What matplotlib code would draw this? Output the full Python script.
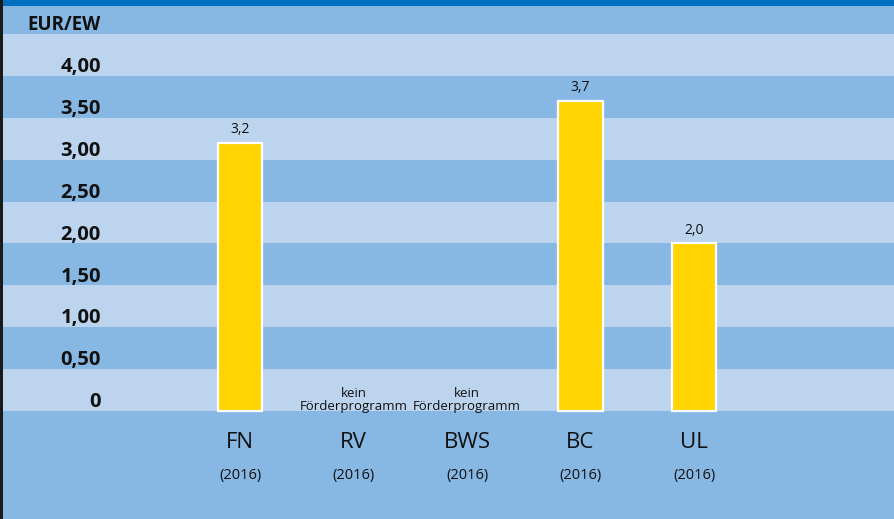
import matplotlib
matplotlib.use("Agg")
import matplotlib.pyplot as plt

plt.rcParams["font.family"] = ["Open Sans", "DejaVu Sans"]

categories = ["FN", "RV", "BWS", "BC", "UL"]
years = ["(2016)", "(2016)", "(2016)", "(2016)", "(2016)"]
values = [3.2, None, None, 3.7, 2.0]
value_labels = ["3,2", None, None, "3,7", "2,0"]
no_program = "kein\nFörderprogramm"
yticks = [0, 0.5, 1.0, 1.5, 2.0, 2.5, 3.0, 3.5, 4.0]
ytick_labels = ["0", "0,50", "1,00", "1,50", "2,00", "2,50", "3,00", "3,50", "4,00"]
unit = "EUR/EW"

DARK = "#87B7E3"
LIGHT = "#BDD4EF"
TOP = "#0070C0"
YELLOW = "#FFD400"

fig = plt.figure(figsize=(8.94, 5.19), dpi=100)
ax = fig.add_axes([0, 0, 1, 1])
ax.set_facecolor(DARK)
ax.set_xlim(-2.115, 5.762)
ax.set_ylim(-1.29, 4.907)

# light stripes every other half unit
for y0 in [0, 1.0, 2.0, 3.0, 4.0]:
    ax.axhspan(y0, y0 + 0.5, color=LIGHT, lw=0, zorder=0)
ax.axhspan(4.836, 4.95, color=TOP, lw=0, zorder=1)
ax.axvspan(-2.2, -2.115 + 3 / 113.5, color="#1a1a1a", lw=0, zorder=1)

xs = list(range(len(categories)))
for x, v, lab in zip(xs, values, value_labels):
    if v is None:
        ax.text(x, -0.025, no_program, ha="center", va="bottom", fontsize=9.5,
                linespacing=1.05, color="#111111")
        continue
    ax.bar(x, v, width=0.39, color=YELLOW, edgecolor="white", linewidth=1.6, zorder=3)
    ax.text(x, v + 0.07, lab, ha="center", va="bottom", fontsize=10, color="#111111")

for x, c, yr in zip(xs, categories, years):
    ax.text(x, -0.38, c, ha="center", va="center", fontsize=16, color="#111111")
    ax.text(x, -0.765, yr, ha="center", va="center", fontsize=10.5, color="#111111")

for t, lab in zip(yticks, ytick_labels):
    ax.text(-1.225, t + 0.045, lab, ha="right", va="baseline", fontsize=14.5,
            fontweight="bold", color="#111111")
ax.text(-1.225, 4.545, unit, ha="right", va="baseline", fontsize=13.5,
        fontweight="bold", color="#111111")

ax.set_xticks([])
ax.set_yticks([])
for s in ax.spines.values():
    s.set_visible(False)

fig.savefig("out.png", dpi=100)
